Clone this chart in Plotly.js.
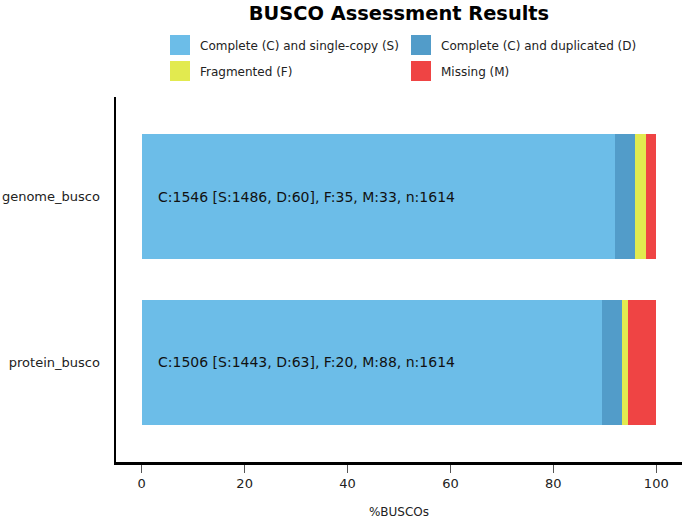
<!DOCTYPE html>
<html><head><meta charset="utf-8">
<script src="https://cdn.plot.ly/plotly-3.0.1.min.js"></script>
<style>html,body{margin:0;padding:0;background:#fff}#chart{width:685px;height:519px}</style>
</head><body><div id="chart"></div>
<script>
const categories = ["genome_busco", "protein_busco"];
const single = [1486, 1443];
const duplicated = [60, 63];
const fragmented = [35, 20];
const missing = [33, 88];
const total = [1614, 1614];
const seriesNames = ["Complete (C) and single-copy (S)", "Complete (C) and duplicated (D)", "Fragmented (F)", "Missing (M)"];
const seriesColors = ["#6cbde8", "#529cc9", "#e2ea4f", "#ef4444"];
const xTicks = [0, 20, 40, 60, 80, 100];

const yPos = categories.map((c, i) => i);
const pct = (arr) => arr.map((v, i) => 100 * v / total[i]);
const seriesCounts = [single, duplicated, fragmented, missing];
const legendIds = ["legend", "legend2", "legend3", "legend4"];

const traces = seriesCounts.map((arr, k) => ({
  type: "bar",
  orientation: "h",
  x: pct(arr),
  y: yPos,
  width: 0.75,
  name: seriesNames[k],
  legend: legendIds[k],
  marker: {color: seriesColors[k], line: {width: 0}},
  hoverinfo: "skip"
}));

const annotations = categories.map((c, i) => ({
  x: 2.7, y: i, xref: "x", yref: "y",
  xanchor: "left", yanchor: "middle", showarrow: false,
  text: `C:${single[i] + duplicated[i]} [S:${single[i]}, D:${duplicated[i]}], F:${fragmented[i]}, M:${missing[i]}, n:${total[i]}`,
  font: {family: "DejaVu Sans", size: 14, color: "#111"}
}));

function legendAt(xpx, ypx) {
  return {
    orientation: "h", xref: "container", yref: "container",
    x: xpx / 685, xanchor: "left", y: 1 - ypx / 519, yanchor: "middle",
    bgcolor: "rgba(0,0,0,0)", borderwidth: 0,
    font: {family: "DejaVu Sans", size: 12, color: "#222"}
  };
}

const layout = {
  width: 685, height: 519,
  paper_bgcolor: "#fff", plot_bgcolor: "#fff",
  margin: {l: 116, r: 3, t: 97, b: 57, pad: 0},
  barmode: "stack",
  font: {family: "DejaVu Sans", color: "#222"},
  title: {text: "<b>BUSCO Assessment Results</b>", font: {family: "DejaVu Sans", size: 19.4, color: "#000"},
          xref: "paper", x: 0.5, xanchor: "center", yref: "container", y: 1 - 13 / 519, yanchor: "middle"},
  showlegend: true,
  legend: legendAt(160, 45),
  legend2: legendAt(401, 45),
  legend3: legendAt(160, 71),
  legend4: legendAt(401, 71),
  xaxis: {
    range: [-5, 105], tickvals: xTicks, ticktext: xTicks.map(String),
    ticks: "outside", ticklen: 8, tickwidth: 1, tickcolor: "#555",
    showline: true, linecolor: "#000", linewidth: 2.5, mirror: false,
    showgrid: false, zeroline: false, fixedrange: true,
    tickfont: {family: "DejaVu Sans", size: 13, color: "#222"},
    title: {text: "%BUSCOs", font: {family: "DejaVu Sans", size: 12, color: "#222"}, standoff: 18}
  },
  yaxis: {
    range: [1.6, -0.6], tickvals: yPos, ticktext: categories,
    ticks: "outside", ticklen: 11, tickwidth: 1, tickcolor: "rgba(0,0,0,0)",
    showline: true, linecolor: "#000", linewidth: 2.5,
    showgrid: false, zeroline: false, fixedrange: true,
    tickfont: {family: "DejaVu Sans", size: 13, color: "#222"}
  },
  annotations: annotations
};

Plotly.newPlot("chart", traces, layout, {displayModeBar: false, staticPlot: true}).then(() => {
  // enlarge legend swatches to match the 20px squares of the reference
  document.querySelectorAll("#chart .legendpoints path").forEach(p => p.setAttribute("d", "M10,10H-10V-10H10Z"));
});
</script>
</body></html>
